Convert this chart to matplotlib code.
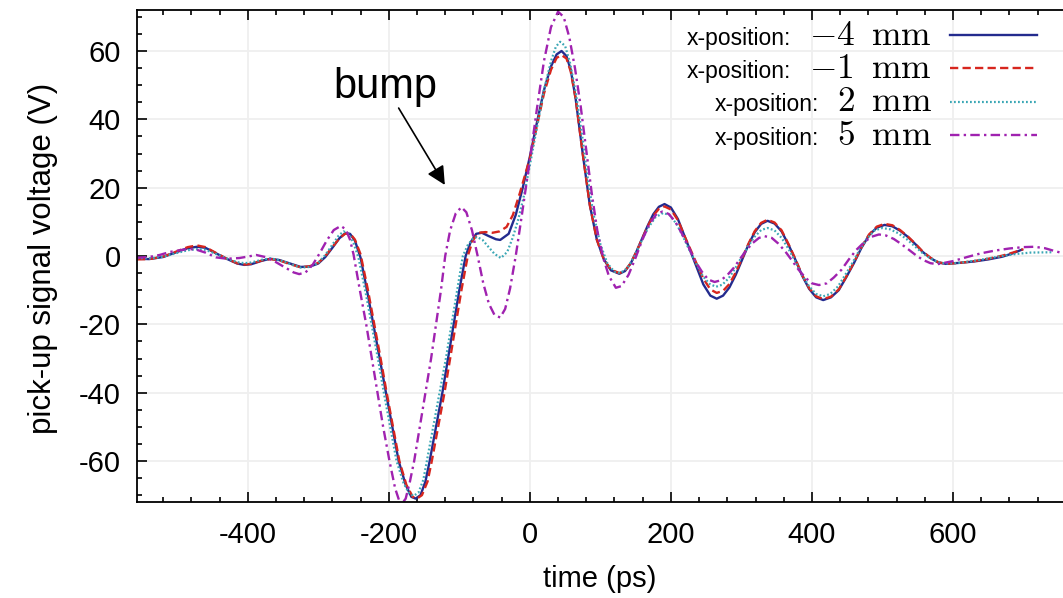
import numpy as np
import matplotlib
matplotlib.use("Agg")
import matplotlib.pyplot as plt
from matplotlib import font_manager
from matplotlib.ticker import MultipleLocator
from matplotlib.lines import Line2D
from matplotlib.offsetbox import TextArea, DrawingArea, HPacker, VPacker, AnchoredOffsetbox

plt.rcParams['font.family'] = ['Liberation Sans', 'DejaVu Sans']
plt.rcParams['mathtext.fontset'] = 'cm'
plt.rcParams['axes.unicode_minus'] = False

# legend labels use a condensed sans if there is one
try:
    font_manager.findfont('Liberation Sans Narrow', fallback_to_default=False)
    leg_font, leg_size = 'Liberation Sans Narrow', 19.5
except ValueError:
    leg_font, leg_size = 'Liberation Sans', 16.5

# (time in ps, voltage in V)
pts_m4 = [(-557, -0.8), (-540, -0.9), (-520, -0.3), (-500, 1.2), (-485, 2.3), (-472, 2.7), (-460, 2.4),
          (-445, 0.8), (-430, -0.8), (-415, -2.2), (-405, -2.6), (-395, -2.4), (-380, -1.4), (-368, -0.8),
          (-355, -1.2), (-340, -2.2), (-325, -3.2), (-312, -3.1), (-300, -2.2), (-290, -0.3), (-280, 2.4),
          (-270, 5.2), (-262, 6.6), (-255, 6.5), (-248, 4.5), (-240, -0.5), (-230, -11), (-221, -21),
          (-212, -31), (-204, -40), (-195, -50), (-186, -60), (-176, -67), (-168, -70.5), (-162, -71),
          (-155, -70), (-148, -66), (-142, -60), (-133, -50), (-124, -40), (-116, -30), (-108, -20),
          (-100, -10), (-91, 0), (-84, 4), (-76, 6.5), (-68, 6.8), (-58, 5.8), (-48, 4.9), (-42, 4.7),
          (-30, 6.5), (-20, 12), (-10, 20), (0, 29), (10, 39), (20, 48.5), (30, 55.5), (38, 59), (45, 60),
          (52, 58.5), (58, 54.5), (65, 46), (75, 30), (85, 15), (95, 4.8), (105, -1), (115, -4.2),
          (127, -5.2), (135, -4.4), (143, -2.2), (151, 1.2), (159, 5), (167, 8.8), (175, 12.2), (183, 14.4),
          (191, 15.2), (200, 14.2), (210, 10.8), (219, 6.0), (228, 1.3), (237, -3.5), (246, -8.3),
          (256, -11.6), (265, -12.5), (274, -11.6), (283, -9.2), (292, -5.5), (301, -1.1), (310, 3.3),
          (319, 7.0), (328, 9.4), (337, 10.3), (347, 9.5), (357, 7.2), (367, 3.2), (377, -1.3), (386, -5.7),
          (396, -9.6), (406, -12.1), (416, -12.9), (427, -12.1), (438, -10.0), (449, -6.1), (460, -1.9),
          (470, 2.3), (481, 6.1), (492, 8.3), (503, 9.1), (514, 8.7), (525, 7.4), (536, 5.6), (547, 3.4),
          (557, 1.2), (568, -0.6), (579, -1.9), (590, -2.3), (610, -2.0), (630, -1.6), (650, -1.0),
          (670, -0.2), (685, 0.8), (697, 1.8)]

pts_m1 = [(-557, -1.0), (-540, -0.9), (-520, -0.2), (-500, 1.4), (-485, 2.6), (-472, 3.1), (-460, 2.6),
          (-445, 0.9), (-430, -0.8), (-415, -2.1), (-405, -2.5), (-395, -2.3), (-380, -1.3), (-368, -0.9),
          (-355, -1.3), (-340, -2.4), (-325, -3.3), (-312, -3.0), (-300, -2.0), (-290, 0.0), (-280, 2.6),
          (-270, 5.2), (-262, 6.5), (-255, 6.6), (-248, 4.8), (-240, 0.5), (-230, -9.5), (-221, -19.5),
          (-212, -29.5), (-203, -40), (-194, -50), (-185, -60), (-175, -67), (-166, -70.5), (-160, -71),
          (-153, -70), (-145, -66), (-139, -60), (-130, -50), (-121, -40), (-113, -30), (-105, -20),
          (-97, -10), (-88, 0), (-81, 4.5), (-73, 6.8), (-63, 7.0), (-53, 6.8), (-43, 7.2), (-33, 8.5),
          (-24, 12), (-14, 18.5), (-5, 25), (0, 28.5), (10, 38), (20, 47.5), (30, 54.5), (38, 58),
          (45, 58.8), (52, 57.8), (58, 54), (65, 46), (75, 30), (85, 15), (95, 4.8), (105, -1), (115, -4),
          (127, -5), (135, -4.3), (143, -2.1), (151, 1.2), (159, 4.9), (167, 8.6), (175, 11.8), (183, 13.8),
          (191, 14.5), (200, 13.6), (210, 10.5), (219, 6.0), (228, 1.8), (237, -2.5), (246, -6.6),
          (256, -9.8), (265, -10.8), (274, -10.2), (283, -8.2), (292, -4.8), (301, -0.7), (310, 3.6),
          (319, 7.3), (328, 9.7), (337, 10.6), (347, 9.8), (357, 7.5), (367, 3.4), (377, -1.1), (386, -5.5),
          (396, -9.4), (406, -11.8), (416, -12.6), (427, -11.9), (438, -9.8), (449, -5.9), (460, -1.7),
          (470, 2.5), (481, 6.3), (492, 8.6), (503, 9.4), (514, 9.0), (525, 7.6), (536, 5.7), (547, 3.5),
          (557, 1.3), (568, -0.5), (579, -1.8), (590, -2.3), (610, -2.0), (630, -1.5), (650, -0.8),
          (670, 0.1), (685, 1.0), (700, 2.0)]

pts_p2 = [(-557, -0.6), (-540, -0.7), (-520, -0.2), (-500, 0.9), (-485, 1.7), (-472, 2.0), (-460, 1.8),
          (-445, 0.6), (-430, -0.7), (-415, -1.8), (-405, -2.1), (-395, -1.9), (-380, -1.1), (-368, -0.7),
          (-355, -1.2), (-340, -2.3), (-325, -3.4), (-312, -3.2), (-300, -2.0), (-290, 0.3), (-280, 3.3),
          (-271, 6.0), (-264, 7.2), (-257, 6.5), (-250, 3.8), (-243, -0.5), (-233, -10.5), (-224, -20.5),
          (-215, -30.5), (-207, -40), (-198, -50), (-189, -60), (-179, -66.5), (-171, -69.5), (-165, -70.2),
          (-158, -69.3), (-151, -65.5), (-146, -60), (-137, -50), (-128, -40), (-119, -30), (-111, -20),
          (-103, -10), (-95, 0), (-88, 3.2), (-81, 5.0), (-75, 5.6), (-67, 4.7), (-58, 2.5), (-50, 0.6),
          (-41, -0.6), (-32, 1.2), (-24, 5.5), (-16, 11), (-8, 18), (0, 26.5), (10, 37.5), (20, 48.5),
          (30, 57), (37, 61.3), (43, 62.7), (50, 61.5), (57, 56.5), (65, 48), (74, 35.5), (82, 23),
          (90, 12.5), (100, 3.5), (110, -2.2), (120, -4.6), (128, -5.0), (138, -3.6), (148, -0.2),
          (158, 4.2), (168, 8.3), (178, 11.3), (189, 12.6), (198, 12.0), (208, 9.4), (217, 5.8), (226, 1.8),
          (236, -2.2), (245, -5.8), (255, -8.2), (264, -9.0), (273, -8.4), (282, -6.5), (291, -3.7),
          (300, -0.4), (310, 3.0), (319, 5.7), (328, 7.6), (337, 8.2), (347, 7.5), (357, 5.3), (367, 2.0),
          (377, -1.8), (386, -5.6), (396, -8.9), (406, -11.1), (416, -11.8), (426, -11.1), (437, -8.9),
          (447, -5.6), (458, -1.8), (468, 2.0), (479, 5.3), (489, 7.5), (500, 8.2), (511, 7.8), (522, 6.7),
          (534, 5.0), (545, 3.0), (556, 1.0), (568, -0.7), (579, -1.8), (590, -2.2), (610, -2.0),
          (630, -1.4), (650, -0.7), (670, 0.0), (690, 0.6), (710, 1.0), (740, 1.1)]

pts_p5 = [(-557, -0.5), (-540, -0.3), (-525, 0.3), (-510, 1.2), (-490, 1.9), (-475, 2.0), (-460, 1.0),
          (-445, -0.4), (-430, -0.8), (-412, -0.6), (-398, -0.1), (-388, 0.3), (-375, -0.3), (-360, -1.8),
          (-345, -3.6), (-335, -4.8), (-327, -5.3), (-318, -4.8), (-308, -2.6), (-298, 0.8), (-288, 4.5),
          (-278, 7.6), (-268, 8.8), (-261, 7.8), (-255, 4.8), (-250, 0.5), (-241, -10), (-232, -20),
          (-224, -30), (-216, -40), (-208, -50), (-199, -60), (-191, -68), (-183, -73), (-176, -71),
          (-170, -66), (-164, -60), (-156, -50), (-148, -40), (-140, -30), (-133, -20), (-126, -10),
          (-120, 0), (-113, 7.5), (-105, 12.5), (-97, 14.3), (-90, 12.8), (-82, 7.5), (-74, 0), (-66, -8),
          (-58, -14), (-50, -17.3), (-42, -18), (-35, -15.5), (-28, -9.5), (-20, 0), (-12, 11), (-5, 21),
          (0, 28), (10, 43), (20, 57), (30, 67), (40, 71.5), (48, 70), (56, 64), (64, 55), (72, 44),
          (80, 31), (88, 18), (96, 7), (104, -0.5), (112, -5.8), (122, -9.3), (130, -8.8), (140, -5.5),
          (150, -0.5), (160, 5), (170, 9.5), (180, 12.4), (188, 13), (197, 12.3), (206, 10.1), (215, 6.8),
          (225, 2.7), (234, -1.3), (244, -4.6), (253, -6.9), (262, -7.6), (271, -7.1), (280, -5.6),
          (289, -3.5), (298, -0.9), (307, 1.7), (316, 3.8), (325, 5.3), (333, 5.8), (343, 5.3), (352, 3.7),
          (362, 1.4), (372, -1.4), (381, -4.0), (391, -6.4), (400, -8.0), (410, -8.5), (421, -8.0),
          (431, -6.3), (442, -4.0), (452, -1.1), (463, 1.8), (474, 4.0), (484, 5.6), (495, 6.3), (505, 6.0),
          (516, 5.0), (526, 3.6), (537, 1.9), (547, 0.3), (557, -1.1), (568, -2.1), (578, -2.4),
          (600, -1.5), (620, -0.3), (640, 0.8), (660, 1.6), (680, 2.2), (700, 2.6), (715, 2.7), (730, 2.3),
          (745, 1.4), (758, 0.7)]

positions = ['-4', '-1', '2', '5']
series = [pts_m4, pts_m1, pts_p2, pts_p5]
styles = [dict(color='#232b8e', lw=1.7),
          dict(color='#d7261e', lw=1.7, dashes=(3.5, 1.8)),
          dict(color='#3ba7b5', lw=1.6, dashes=(0.8, 1.0)),
          dict(color='#a022b0', lw=1.7, dashes=(4, 1.8, 1, 1.8))]

fig = plt.figure(figsize=(10.63, 5.98), dpi=100)
ax = fig.add_axes([137 / 1063, 96 / 598, 926 / 1063, 492 / 598])

for pts, st in zip(series, styles):
    t, v = np.array(pts).T
    ax.plot(t, v, **st)

ax.set_xlim(-557, 756)
ax.set_ylim(-72, 72)
ax.xaxis.set_major_locator(MultipleLocator(200))
ax.xaxis.set_minor_locator(MultipleLocator(40))
ax.yaxis.set_major_locator(MultipleLocator(20))
ax.yaxis.set_minor_locator(MultipleLocator(5))
ax.grid(True, which='major', color='#efefef', lw=1.3)
ax.set_axisbelow(True)
ax.spines['right'].set_visible(False)
for s in ['left', 'bottom', 'top']:
    ax.spines[s].set_linewidth(1.3)

ax.tick_params(which='both', direction='in', top=True, right=False, width=1.2)
ax.tick_params(which='major', length=7, labelsize=21)
ax.tick_params(which='minor', length=3.5)
ax.tick_params(axis='x', which='major', pad=13.5)
ax.tick_params(axis='y', which='major', pad=11.5)

ax.set_xlabel('time (ps)', fontsize=21, labelpad=12)
ax.set_ylabel('pick-up signal voltage (V)', fontsize=22.5)
ax.yaxis.set_label_coords(-0.085, 0.495)

# legend: sans label + larger CM math value, line sample on the right
rows = []
for pos, st in zip(positions, styles):
    lab = TextArea('x-position:', textprops=dict(fontsize=leg_size, family=leg_font))
    val = TextArea(r'$%s\;\;\mathrm{mm}$' % pos, textprops=dict(fontsize=25.5))
    da = DrawingArea(62.6, 13, 0, 0)
    da.add_artist(Line2D([0, 62.6], [7, 7], **st))
    rows.append(HPacker(children=[lab, val, da], align='baseline', pad=0, sep=13))
leg = VPacker(children=rows, align='right', pad=0, sep=0.2)
ax.add_artist(AnchoredOffsetbox(loc='upper right', child=leg, frameon=False, pad=0, borderpad=0,
                                bbox_to_anchor=(0.972, 0.982), bbox_transform=ax.transAxes))

ax.text(-205, 49.5, 'bump', fontsize=30, ha='center', va='center')
ax.annotate('', xy=(-120.5, 20.8), xytext=(-186, 43.3),
            arrowprops=dict(arrowstyle='-|>', mutation_scale=28, lw=1.2, color='black',
                            shrinkA=0, shrinkB=0))

fig.savefig('out.png', dpi=100)
